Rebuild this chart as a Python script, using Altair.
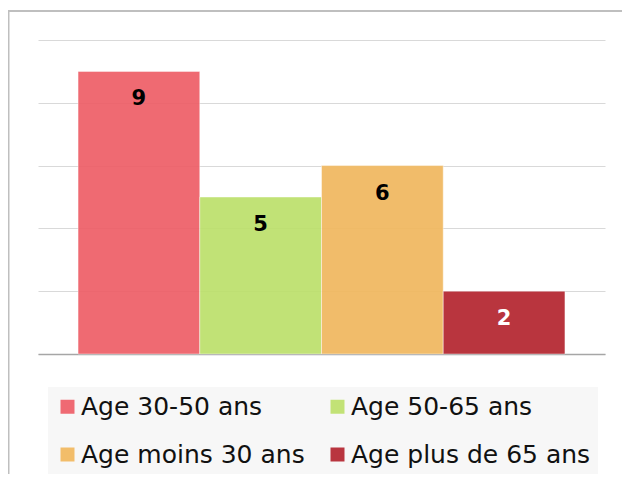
import altair as alt
import pandas as pd

categories = ["Age 30-50 ans", "Age 50-65 ans", "Age moins 30 ans", "Age plus de 65 ans"]
values = [9, 5, 6, 2]
colors = ["#EE5F68", "#BDE06C", "#F1B85F", "#B42630"]

df = pd.DataFrame({"cat": categories, "val": values})

x = alt.X("cat:N", sort=categories,
          scale=alt.Scale(paddingInner=0, paddingOuter=0.329),
          axis=alt.Axis(labels=False, ticks=False, title=None, domain=True,
                        domainColor="#A6A6A6", domainWidth=1.5, grid=False))
y = alt.Y("val:Q", scale=alt.Scale(domain=[0, 10], nice=False),
          axis=alt.Axis(labels=False, ticks=False, title=None, domain=False,
                        values=[0, 2, 4, 6, 8, 10], grid=True,
                        gridColor="#D9D9D9", gridWidth=1.2))

bars = alt.Chart(df).mark_bar(opacity=0.93, stroke="white", strokeOpacity=0.45,
                              strokeWidth=1).encode(
    x=x, y=y,
    color=alt.Color("cat:N", sort=categories,
                    scale=alt.Scale(domain=categories, range=colors),
                    legend=alt.Legend(orient="none", legendX=10, legendY=347,
                                      direction="horizontal",
                                      title=None, columns=2, symbolType="square",
                                      symbolSize=196, symbolStrokeWidth=0,
                                      labelFont="DejaVu Sans", labelFontSize=25,
                                      labelColor="#111111", labelOffset=1,
                                      columnPadding=20, rowPadding=22,
                                      padding=7, fillColor="#F7F7F7",
                                      labelLimit=400)),
)

labels = alt.Chart(df).mark_text(font="DejaVu Sans", fontWeight="bold", fontSize=21,
                                 baseline="middle", dy=28).encode(
    x=alt.X("cat:N", sort=categories),
    y=alt.Y("val:Q"),
    text=alt.Text("val:Q"),
    color=alt.condition(alt.datum.val < 3, alt.value("white"), alt.value("black")),
)

frame_data = alt.Data(values=[{"k": 1}])
frame_top = alt.Chart(frame_data).mark_rule(color="#BFBFBF", strokeWidth=2).encode(
    x=alt.value(-31), x2=alt.value(700), y=alt.value(-29))
frame_left = alt.Chart(frame_data).mark_rule(color="#BFBFBF", strokeWidth=2).encode(
    x=alt.value(-29.5), y=alt.value(-30), y2=alt.value(600))

chart = alt.layer(bars, labels, frame_top, frame_left).properties(
    width=567, height=314,
    autosize=alt.AutoSizeParams(type="none"),
    padding={"left": 30, "top": 32, "right": 17, "bottom": 120},
).configure_view(stroke=None)

chart.save("out.html", embed_options={"renderer": "svg", "actions": False})
